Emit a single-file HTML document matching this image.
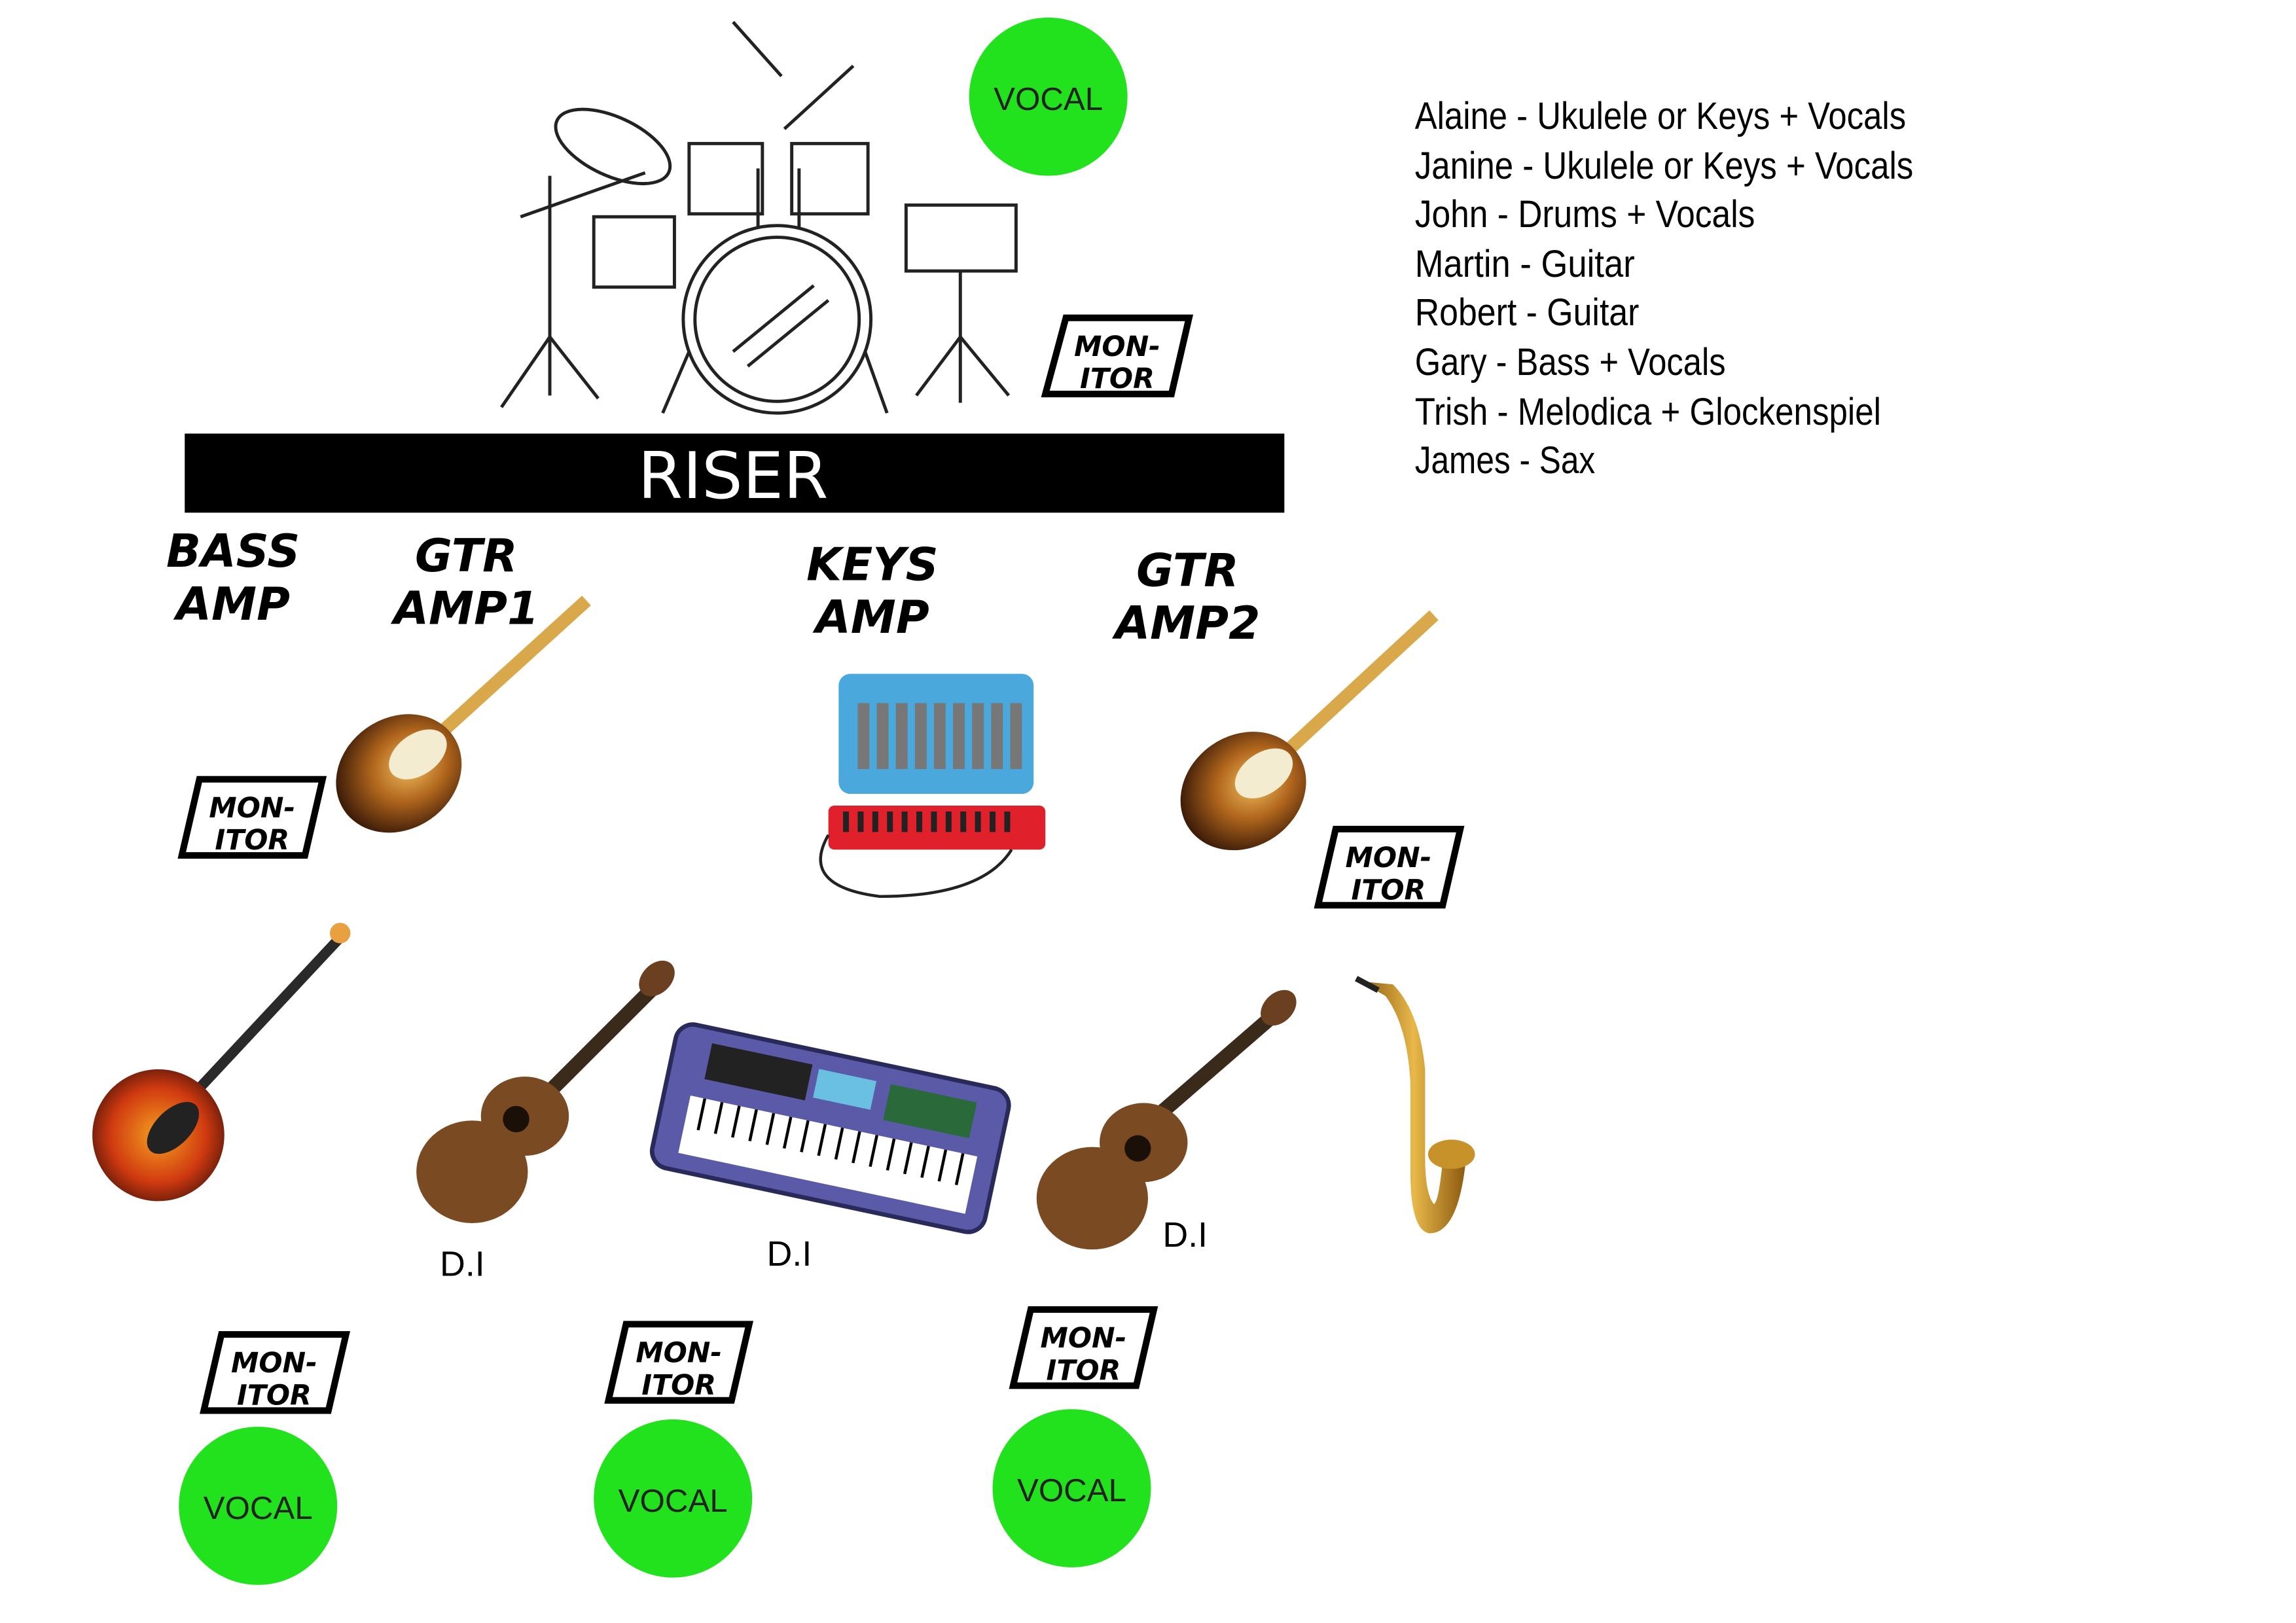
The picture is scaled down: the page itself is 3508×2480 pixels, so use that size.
<!DOCTYPE html>
<html><head><meta charset="utf-8"><style>html,body{margin:0;padding:0;background:#fff}svg{display:block}</style></head>
<body>
<svg width="3508" height="2480" viewBox="0 0 1566 1108" preserveAspectRatio="none" xmlns="http://www.w3.org/2000/svg">
<defs>
<radialGradient id="sb" cx="0.6" cy="0.5" r="0.6"><stop offset="0" stop-color="#f2c060"/><stop offset="0.5" stop-color="#b0651c"/><stop offset="1" stop-color="#3a1a08"/></radialGradient>
<radialGradient id="bb" cx="0.5" cy="0.5" r="0.6"><stop offset="0" stop-color="#f5a020"/><stop offset="0.6" stop-color="#d03a10"/><stop offset="1" stop-color="#401008"/></radialGradient>
<linearGradient id="gold" x1="0" x2="1"><stop offset="0" stop-color="#8a5a10"/><stop offset="0.5" stop-color="#e8b84a"/><stop offset="1" stop-color="#8a5a10"/></linearGradient>
</defs>
<rect width="1566" height="1108" fill="#fff"/>

<g fill="none" stroke="#222" stroke-width="2.2">
  <line x1="500" y1="15" x2="533" y2="52"/><line x1="582" y1="45" x2="535" y2="88"/>
  <ellipse cx="418" cy="100" rx="42" ry="20" transform="rotate(25 418 100)"/>
  <line x1="375" y1="120" x2="375" y2="270"/><line x1="375" y1="230" x2="342" y2="278"/><line x1="375" y1="230" x2="408" y2="272"/>
  <line x1="355" y1="148" x2="440" y2="118"/>
  <rect x="470" y="98" width="50" height="48"/><rect x="540" y="98" width="52" height="48"/>
  <rect x="405" y="148" width="55" height="48"/>
  <rect x="618" y="140" width="75" height="45"/>
  <line x1="655" y1="185" x2="655" y2="275"/><line x1="655" y1="230" x2="625" y2="270"/><line x1="655" y1="230" x2="688" y2="270"/>
  <circle cx="530" cy="218" r="64"/><circle cx="530" cy="218" r="56"/>
  <line x1="500" y1="240" x2="555" y2="195"/><line x1="510" y1="250" x2="565" y2="205"/>
  <line x1="470" y1="240" x2="452" y2="282"/><line x1="590" y1="240" x2="605" y2="282"/>
  <line x1="517" y1="115" x2="517" y2="155"/><line x1="545" y1="115" x2="545" y2="155"/>
</g>

<g fill="#22e21e">
  <circle cx="715" cy="66" r="54"/><circle cx="176" cy="1028" r="54"/><circle cx="459" cy="1023" r="54"/><circle cx="731" cy="1016" r="54"/>
</g>
<g font-family="'Liberation Sans',sans-serif" font-size="22" fill="#222" text-anchor="middle">
  <text x="715" y="75">VOCAL</text><text x="176" y="1037">VOCAL</text><text x="459" y="1032">VOCAL</text><text x="731" y="1025">VOCAL</text>
</g>

<rect x="126" y="296" width="750" height="54" fill="#000"/>
<text x="500" y="340" font-family="'DejaVu Sans','Liberation Sans',sans-serif" font-size="44" fill="#fff" text-anchor="middle">RISER</text>

<g fill="none" stroke="#000" stroke-width="4.5">
  <polygon points="727,217 811,217 799,269 713,269"/>
  <polygon points="136,532 220,532 208,584 124,584"/>
  <polygon points="911,566 996,566 984,618 899,618"/>
  <polygon points="151,911 236,911 224,963 139,963"/>
  <polygon points="427,904 511,904 499,956 415,956"/>
  <polygon points="703,894 787,894 775,946 691,946"/>
</g>
<g font-family="'DejaVu Sans','Liberation Sans',sans-serif" font-size="19" font-weight="bold" font-style="italic" fill="#000" text-anchor="middle">
  <text x="762" y="243">MON-</text><text x="762" y="265">ITOR</text>
  <text x="172" y="558">MON-</text><text x="172" y="580">ITOR</text>
  <text x="947" y="592">MON-</text><text x="947" y="614">ITOR</text>
  <text x="187" y="937">MON-</text><text x="187" y="959">ITOR</text>
  <text x="463" y="930">MON-</text><text x="463" y="952">ITOR</text>
  <text x="739" y="920">MON-</text><text x="739" y="942">ITOR</text>
</g>

<g font-family="'DejaVu Sans','Liberation Sans',sans-serif" font-size="31" font-weight="bold" font-style="italic" fill="#000" text-anchor="middle">
  <text x="159" y="387">BASS</text><text x="159" y="423">AMP</text>
  <text x="318" y="390">GTR</text><text x="318" y="426">AMP1</text>
  <text x="595" y="396">KEYS</text><text x="595" y="432">AMP</text>
  <text x="810" y="400">GTR</text><text x="810" y="436">AMP2</text>
</g>

<g font-family="'Liberation Sans',sans-serif" font-size="24" fill="#000">
  <text x="300" y="871">D.I</text><text x="523" y="864">D.I</text><text x="793" y="851">D.I</text>
</g>

<g>
  <line x1="290" y1="510" x2="400" y2="410" stroke="#d9a84a" stroke-width="9"/>
  <ellipse cx="272" cy="528" rx="45" ry="38" transform="rotate(-35 272 528)" fill="url(#sb)"/>
  <ellipse cx="285" cy="515" rx="22" ry="14" transform="rotate(-35 285 515)" fill="#f3ecd0"/>
  <line x1="870" y1="520" x2="978" y2="420" stroke="#d9a84a" stroke-width="9"/>
  <ellipse cx="848" cy="540" rx="45" ry="38" transform="rotate(-35 848 540)" fill="url(#sb)"/>
  <ellipse cx="862" cy="528" rx="22" ry="14" transform="rotate(-35 862 528)" fill="#f3ecd0"/>
</g>

<g>
  <line x1="120" y1="760" x2="232" y2="640" stroke="#2a2a2a" stroke-width="7"/>
  <circle cx="232" cy="637" r="7" fill="#e8a040"/>
  <ellipse cx="108" cy="775" rx="45" ry="45" fill="url(#bb)"/>
  <ellipse cx="118" cy="770" rx="22" ry="12" transform="rotate(-45 118 770)" fill="#222"/>
</g>

<g>
  <line x1="360" y1="760" x2="455" y2="665" stroke="#3a2a1a" stroke-width="10"/>
  <ellipse cx="448" cy="668" rx="14" ry="10" transform="rotate(-45 448 668)" fill="#6a4020"/>
  <ellipse cx="322" cy="800" rx="38" ry="35" fill="#7a4a22"/>
  <ellipse cx="358" cy="762" rx="30" ry="27" fill="#7a4a22"/>
  <circle cx="352" cy="764" r="9" fill="#1a1008"/>
  <line x1="780" y1="770" x2="878" y2="685" stroke="#3a2a1a" stroke-width="10"/>
  <ellipse cx="872" cy="688" rx="14" ry="10" transform="rotate(-45 872 688)" fill="#6a4020"/>
  <ellipse cx="745" cy="818" rx="38" ry="35" fill="#7a4a22"/>
  <ellipse cx="780" cy="780" rx="30" ry="27" fill="#7a4a22"/>
  <circle cx="776" cy="784" r="9" fill="#1a1008"/>
</g>

<g transform="rotate(12 565 772)">
  <rect x="450" y="720" width="232" height="100" rx="12" fill="#5a5aa8" stroke="#2a2a5a" stroke-width="3"/>
  <rect x="468" y="768" width="200" height="40" fill="#fff"/>
  <rect x="475" y="730" width="70" height="25" fill="#222"/>
  <rect x="550" y="732" width="40" height="20" fill="#6ac0e0"/>
  <rect x="600" y="732" width="60" height="25" fill="#2a6a3a"/>
  <g stroke="#000" stroke-width="2">
    <line x1="478" y1="768" x2="478" y2="790"/><line x1="490" y1="768" x2="490" y2="790"/><line x1="502" y1="768" x2="502" y2="790"/><line x1="514" y1="768" x2="514" y2="790"/><line x1="526" y1="768" x2="526" y2="790"/><line x1="538" y1="768" x2="538" y2="790"/><line x1="550" y1="768" x2="550" y2="790"/><line x1="562" y1="768" x2="562" y2="790"/><line x1="574" y1="768" x2="574" y2="790"/><line x1="586" y1="768" x2="586" y2="790"/><line x1="598" y1="768" x2="598" y2="790"/><line x1="610" y1="768" x2="610" y2="790"/><line x1="622" y1="768" x2="622" y2="790"/><line x1="634" y1="768" x2="634" y2="790"/><line x1="646" y1="768" x2="646" y2="790"/><line x1="658" y1="768" x2="658" y2="790"/>
  </g>
</g>

<rect x="572" y="460" width="133" height="82" rx="8" fill="#4aa8dc"/>
<g fill="#777">
  <rect x="585" y="480" width="8" height="45"/><rect x="598" y="480" width="8" height="45"/><rect x="611" y="480" width="8" height="45"/><rect x="624" y="480" width="8" height="45"/><rect x="637" y="480" width="8" height="45"/><rect x="650" y="480" width="8" height="45"/><rect x="663" y="480" width="8" height="45"/><rect x="676" y="480" width="8" height="45"/><rect x="689" y="480" width="8" height="45"/>
</g>
<rect x="565" y="550" width="148" height="30" rx="4" fill="#e0202a"/>
<g fill="#222"><rect x="575" y="554" width="4" height="14"/><rect x="585" y="554" width="4" height="14"/><rect x="595" y="554" width="4" height="14"/><rect x="605" y="554" width="4" height="14"/><rect x="615" y="554" width="4" height="14"/><rect x="625" y="554" width="4" height="14"/><rect x="635" y="554" width="4" height="14"/><rect x="645" y="554" width="4" height="14"/><rect x="655" y="554" width="4" height="14"/><rect x="665" y="554" width="4" height="14"/><rect x="675" y="554" width="4" height="14"/><rect x="685" y="554" width="4" height="14"/></g>
<path d="M565 570 Q545 605 600 612 Q670 612 690 580" fill="none" stroke="#222" stroke-width="2"/>

<g>
  <path d="M928 670 L945 680 Q960 700 962 740 L962 800 Q962 840 975 842 Q995 842 1000 790 L985 780 Q982 820 978 822 Q972 815 972 790 L972 730 Q968 690 950 672 Z" fill="url(#gold)"/>
  <ellipse cx="990" cy="788" rx="16" ry="10" fill="#c8922a"/>
  <line x1="925" y1="668" x2="940" y2="676" stroke="#222" stroke-width="4"/>
</g>

<g font-family="'Liberation Sans Narrow','Liberation Sans',sans-serif" font-size="26" fill="#000">
  <text x="965" y="88" textLength="335" lengthAdjust="spacingAndGlyphs">Alaine - Ukulele or Keys + Vocals</text>
  <text x="965" y="122" textLength="340" lengthAdjust="spacingAndGlyphs">Janine - Ukulele or Keys + Vocals</text>
  <text x="965" y="155" textLength="232" lengthAdjust="spacingAndGlyphs">John - Drums + Vocals</text>
  <text x="965" y="189" textLength="150" lengthAdjust="spacingAndGlyphs">Martin - Guitar</text>
  <text x="965" y="222" textLength="153" lengthAdjust="spacingAndGlyphs">Robert - Guitar</text>
  <text x="965" y="256" textLength="212" lengthAdjust="spacingAndGlyphs">Gary - Bass + Vocals</text>
  <text x="965" y="290" textLength="318" lengthAdjust="spacingAndGlyphs">Trish - Melodica + Glockenspiel</text>
  <text x="965" y="323" textLength="123" lengthAdjust="spacingAndGlyphs">James - Sax</text>
</g>
</svg>
</body></html>
